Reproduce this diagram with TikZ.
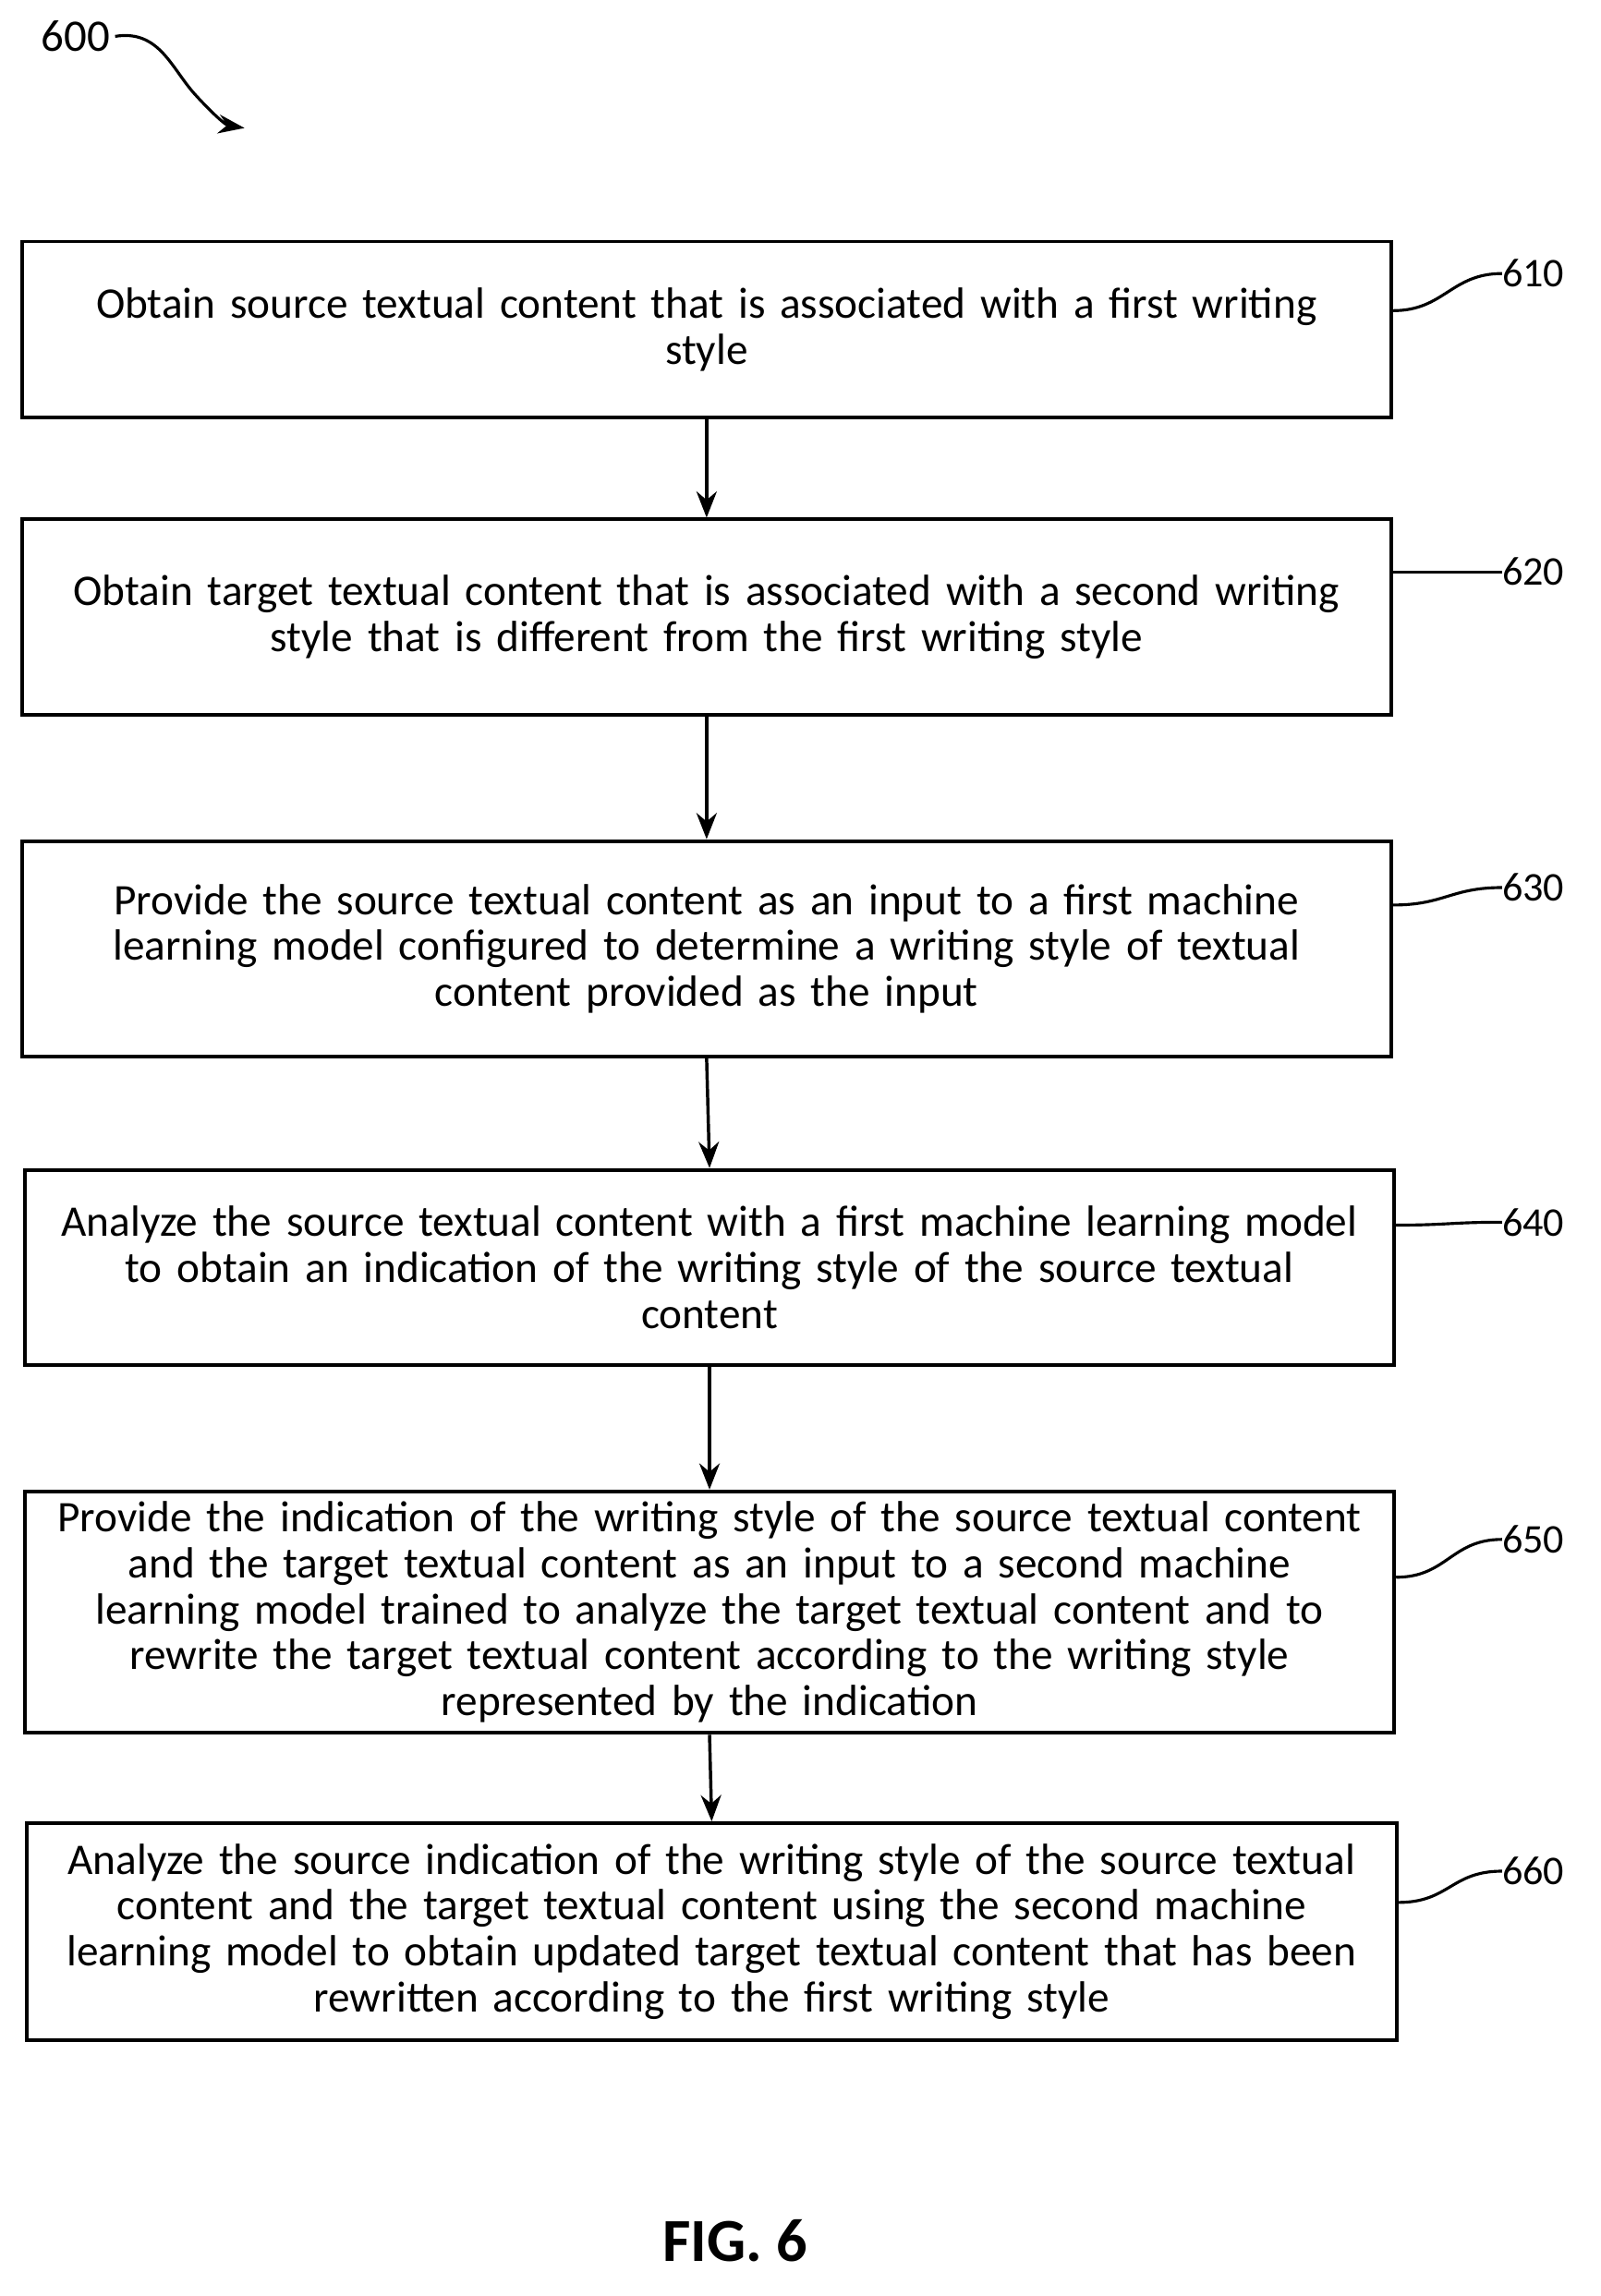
\documentclass[tikz,border=0pt]{standalone}
\usepackage{fontspec}
\setmainfont{Carlito}
\usetikzlibrary{arrows.meta}
\begin{document}
\begin{tikzpicture}[x=1pt,y=-1pt,
  box/.style={draw,line width=2.5pt,minimum width=941pt,text width=935pt,align=center,inner sep=0pt,font=\fontsize{30}{31.5}\selectfont},
  arr/.style={line width=2.2pt,-{Stealth[length=18pt,width=14pt]}},
  lead/.style={line width=2pt},
  lab/.style={font=\fontsize{28}{30}\selectfont,anchor=west,inner sep=0pt}]
\useasboundingbox (0,0) rectangle (1100,1578);
\node[box,minimum height=121pt] (b1) at (485.5,226.5) {Obtain source textual content that is associated with a first writing\\style};
\node[box,minimum height=134pt] (b2) at (485.5,424) {Obtain target textual content that is associated with a second writing\\style that is different from the first writing style};
\node[box,minimum height=148pt] (b3) at (485.5,652) {Provide the source textual content as an input to a first machine\\learning model configured to determine a writing style of textual\\content provided as the input};
\node[box,minimum height=134pt] (b4) at (487.5,871) {Analyze the source textual content with a first machine learning model\\to obtain an indication of the writing style of the source textual\\content};
\node[box,minimum height=166pt] (b5) at (487.5,1108) {Provide the indication of the writing style of the source textual content\\and the target textual content as an input to a second machine\\learning model trained to analyze the target textual content and to\\rewrite the target textual content according to the writing style\\represented by the indication};
\node[box,minimum height=149pt] (b6) at (489,1327.5) {Analyze the source indication of the writing style of the source textual\\content and the target textual content using the second machine\\learning model to obtain updated target textual content that has been\\rewritten according to the first writing style};
\foreach \a/\b in {b1/b2,b2/b3,b3/b4,b4/b5,b5/b6}
  \draw[arr] (\a.south) -- (\b.north);
\foreach \n/\y/\d/\t in {b1/188/13/610,b2/393/31/620,b3/610/30/630,b4/840/29/640,b5/1058/24/650,b6/1286/20/660}{
  \node[lab] (l\t) at (1032,\y) {\t};
  \coordinate (s\t) at ([yshift=\d pt]\n.east);
  \draw[lead] (s\t) .. controls ++(35,0) and ++(-35,0) .. (l\t.west);
}
\node[font=\fontsize{31}{33}\selectfont] (n600) at (52,25) {600};
\coordinate (e600) at (168,88);
\draw[line width=2pt,-{Stealth[length=18pt,width=13pt]}] (n600.east) .. controls (110,20) and (118,48) .. (135,66) .. controls (146,78) and (155,86) .. (e600);
\node[font=\bfseries\fontsize{42}{44}\selectfont] (fig) at (505,1540) {FIG. 6};
\end{tikzpicture}
\end{document}
